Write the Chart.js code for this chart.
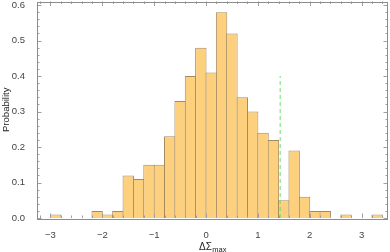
<!DOCTYPE html>
<html><head><meta charset="utf-8">
<script src="https://cdn.jsdelivr.net/npm/chart.js@4/dist/chart.umd.min.js"></script>
<style>html,body{margin:0;padding:0;background:#fff}#wrap{width:390px;height:252px}</style>
</head><body><div id="wrap"><canvas id="c"></canvas></div>
<script>
// ---- data ----
const binStarts = [-3.0,-2.8,-2.6,-2.4,-2.2,-2.0,-1.8,-1.6,-1.4,-1.2,-1.0,-0.8,-0.6,-0.4,-0.2,0.0,0.2,0.4,0.6,0.8,1.0,1.2,1.4,1.6,1.8,2.0,2.2,2.4,2.6,2.8,3.0,3.2];
const binWidth = 0.2;
const probabilities = [0.01,0,0,0,0.02,0.01,0.02,0.12,0.11,0.15,0.15,0.23,0.33,0.40,0.48,0.41,0.58,0.52,0.34,0.30,0.24,0.22,0.05,0.19,0.06,0.02,0.02,0,0.01,0,0,0.01];
const xTickValues = [-3,-2,-1,0,1,2,3];
const yTickValues = [0,0.1,0.2,0.3,0.4,0.5,0.6];
const markerX = [1.43,1.43];
const markerY = [0,0.4];
const xTitle = 'ΔΣ';
const xTitleSub = 'max';
const yTitle = 'Probability';

const FONT = "'Liberation Sans', Arial, sans-serif";
const barData = binStarts.map((s,i)=>({x:s+binWidth/2, y:probabilities[i]}));
const lineData = markerX.map((x,i)=>({x:x, y:markerY[i]}));

const framePlugin = {
  id:'frame',
  afterDraw(chart){
    const {ctx, chartArea:a, scales:{x,y}} = chart;
    ctx.save();
    ctx.strokeStyle = '#a0a0a0';
    ctx.lineWidth = 1;
    const xMinor = [], yMinor = [];
    for (let v=-3.2; v<=3.5; v+=0.2) xMinor.push(Math.round(v*10)/10);
    for (let v=0; v<=0.61; v+=0.02) yMinor.push(Math.round(v*100)/100);
    ctx.beginPath();
    xMinor.forEach(v=>{
      const px = Math.round(x.getPixelForValue(v))+0.5;
      if (px<a.left||px>a.right) return;
      const major = xTickValues.some(t=>Math.abs(t-v)<1e-6);
      const L = major?4.5:2.5;
      ctx.moveTo(px,a.bottom); ctx.lineTo(px,a.bottom-L);
      ctx.moveTo(px,a.top); ctx.lineTo(px,a.top+L);
    });
    yMinor.forEach(v=>{
      const py = Math.round(y.getPixelForValue(v))+0.5;
      const major = yTickValues.some(t=>Math.abs(t-v)<1e-6);
      const L = major?4.5:2.5;
      ctx.moveTo(a.left,py); ctx.lineTo(a.left+L,py);
      ctx.moveTo(a.right,py); ctx.lineTo(a.right-L,py);
    });
    ctx.stroke();
    ctx.strokeStyle = '#8c8c8c';
    ctx.strokeRect(Math.round(a.left)+0.5, Math.round(a.top)+0.5, Math.round(a.right-a.left)-1, Math.round(a.bottom-a.top));
    ctx.fillStyle = '#222';
    ctx.textBaseline = 'alphabetic';
    ctx.font = '10px '+FONT;
    const w1 = ctx.measureText(xTitle).width;
    ctx.font = '7.5px '+FONT;
    const w2 = ctx.measureText(xTitleSub).width;
    const cx = (a.left+a.right)/2;
    const x0 = cx-(w1+w2)/2;
    ctx.font = '10px '+FONT;
    ctx.fillText(xTitle, x0, 250);
    ctx.font = '7.5px '+FONT;
    ctx.fillText(xTitleSub, x0+w1+0.5, 252);
    ctx.restore();
  }
};

new Chart(document.getElementById('c'), {
  data:{
    datasets:[
      {type:'bar', data:barData, backgroundColor:'#fdd07e', borderColor:'#a58a60', borderWidth:1,
       barPercentage:1.1, categoryPercentage:1, borderSkipped:'bottom', order:2},
      {type:'line', data:lineData, borderColor:'rgba(95,220,95,0.9)', borderWidth:1, borderDash:[4,3],
       pointRadius:0, fill:false, order:1}
    ]
  },
  options:{
    responsive:true, maintainAspectRatio:false, animation:false,
    layout:{padding:{top:1.5,right:2,left:0,bottom:0}},
    plugins:{legend:{display:false}, tooltip:{enabled:false}},
    scales:{
      x:{type:'linear', min:-3.26, max:3.51, offset:false,
        grid:{display:false}, border:{display:false},
        ticks:{stepSize:1, includeBounds:false, autoSkip:false, maxRotation:0, padding:4,
          font:{size:9.5, family:FONT}, color:'#444',
          callback:v=>xTickValues.includes(v)?String(v).replace('-','\u2212'):''},
        afterFit(s){ s.height = 34; s.paddingLeft=0; s.paddingRight=0; }
      },
      y:{type:'linear', min:0, max:0.61, offset:false,
        grid:{display:false}, border:{display:false},
        title:{display:true, text:yTitle, font:{size:9.5, family:FONT}, color:'#222', padding:{top:1,bottom:0}},
        ticks:{stepSize:0.1, includeBounds:false, padding:4, font:{size:9.5, family:FONT}, color:'#444',
          callback:v=>{const t=yTickValues.find(u=>Math.abs(u-v)<1e-6); return t===undefined?'':t.toFixed(1);}},
        afterFit(s){ s.width = 37; s.paddingTop=0; s.paddingBottom=0; }
      }
    }
  },
  plugins:[framePlugin]
});
</script></body></html>
